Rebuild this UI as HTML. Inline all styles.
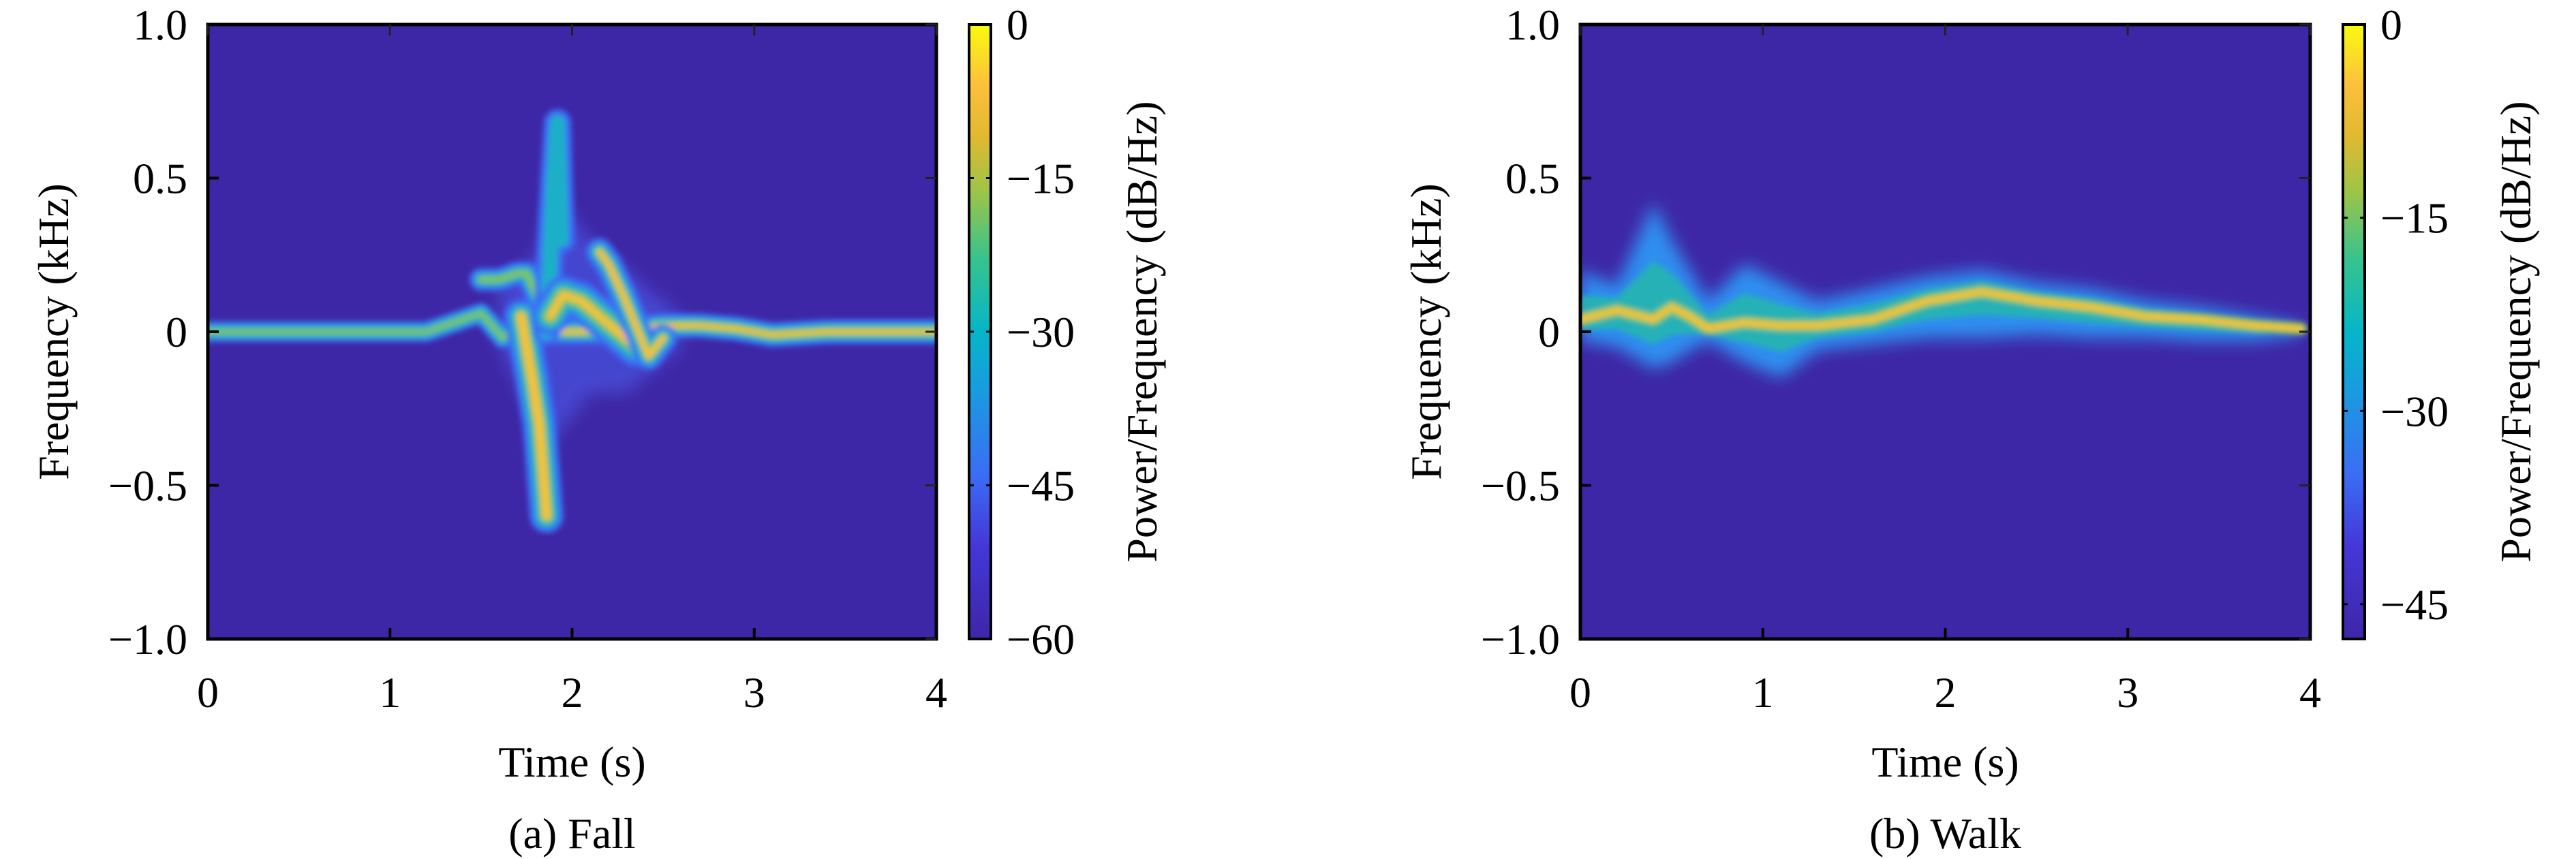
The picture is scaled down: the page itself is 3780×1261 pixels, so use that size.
<!DOCTYPE html>
<html><head><meta charset="utf-8"><style>
html,body{margin:0;padding:0;background:#fff}
svg{display:block}
svg text{font-family:"Liberation Serif","DejaVu Serif",serif !important;fill:#000}
</style></head><body>
<svg id="s" width="3780" height="1261" viewBox="0 0 3780 1261" xmlns="http://www.w3.org/2000/svg">
<defs>
<linearGradient id="parula" x1="0" y1="1" x2="0" y2="0">
<stop offset="0" stop-color="#3e26a8"/>
<stop offset="0.15" stop-color="#4437d8"/>
<stop offset="0.27" stop-color="#3a6ef5"/>
<stop offset="0.4" stop-color="#1a9ae0"/>
<stop offset="0.5" stop-color="#05b6c8"/>
<stop offset="0.62" stop-color="#38c38c"/>
<stop offset="0.73" stop-color="#9fc446"/>
<stop offset="0.82" stop-color="#e2b930"/>
<stop offset="0.9" stop-color="#fcbf3c"/>
<stop offset="1" stop-color="#f9fb0e"/>
</linearGradient>
<filter id="blur" x="-5%" y="-5%" width="110%" height="110%"><feGaussianBlur stdDeviation="4"/></filter>
<filter id="blur2" x="-10%" y="-10%" width="120%" height="120%"><feGaussianBlur stdDeviation="12"/></filter>
<clipPath id="clipA"><rect x="305" y="36" width="1069" height="902"/></clipPath>
<clipPath id="clipB"><rect x="2319" y="36" width="1071" height="902"/></clipPath>
</defs>
<g id="root"></g>
</svg>
<script>
// ---- data: fall ridges (time s, freq kHz) ----
const fallBaseT = [0, 0.5, 1.0, 1.2, 1.35, 1.5, 1.62, 1.7];
const fallBaseF = [0.0, 0.0, 0.0, 0.0, 0.03, 0.06, -0.02, 0.02];
const fallUpperT = [1.5, 1.6, 1.7, 1.75, 1.82];
const fallUpperF = [0.17, 0.17, 0.19, 0.19, 0.1];
const fallDownT = [1.72, 1.78, 1.82, 1.84, 1.86];
const fallDownF = [0.05, -0.15, -0.3, -0.45, -0.6];
const fallUpT = [1.86, 1.88, 1.9, 1.92, 1.94];
const fallUpF = [0.0, 0.25, 0.5, 0.68, 0.3];
const fallBT = [1.88, 1.95, 2.05, 2.15, 2.25, 2.35];
const fallBF = [0.05, 0.12, 0.1, 0.05, 0.0, -0.05];
const fallCT = [2.15, 2.2, 2.28, 2.35, 2.42, 2.5];
const fallCF = [0.26, 0.22, 0.12, 0.02, -0.08, -0.02];
const fallTailT = [1.9, 2.2, 2.5, 2.7, 2.9, 3.1, 3.4, 3.7, 4.0];
const fallTailF = [0.0, 0.0, 0.02, 0.02, 0.01, -0.01, 0.0, 0.0, 0.0];
const fallHazeT = [1.6, 1.8, 1.9, 2.1, 2.3, 2.6];
const fallHazeHi = [0.15, 0.25, 0.45, 0.3, 0.2, 0.05];
const fallHazeLo = [-0.05, -0.3, -0.35, -0.2, -0.2, -0.05];
// ---- data: walk ridge and spread envelope ----
const walkT = [0, 0.2, 0.4, 0.5, 0.6, 0.7, 0.9, 1.1, 1.3, 1.6, 1.9, 2.2, 2.5, 2.8, 3.1, 3.4, 3.7, 3.95];
const walkF = [0.04, 0.07, 0.04, 0.08, 0.05, 0.01, 0.03, 0.02, 0.02, 0.04, 0.1, 0.13, 0.1, 0.08, 0.05, 0.04, 0.02, 0.01];
const walkHi = [0.2, 0.15, 0.42, 0.3, 0.2, 0.1, 0.22, 0.16, 0.1, 0.14, 0.18, 0.2, 0.16, 0.14, 0.1, 0.08, 0.05, 0.02];
const walkLo = [-0.03, -0.05, -0.12, -0.1, -0.06, -0.03, -0.1, -0.15, -0.06, -0.04, -0.02, -0.02, -0.01, -0.02, -0.02, -0.03, -0.03, -0.01];
const xTicks = [0, 1, 2, 3, 4];
const yTicks = [-1.0, -0.5, 0, 0.5, 1.0];
const yTickLabels = ["\u22121.0", "\u22120.5", "0", "0.5", "1.0"];
const cbTicksA = [0, -15, -30, -45, -60];
const cbTicksB = [0, -15, -30, -45];

const NS = "http://www.w3.org/2000/svg";
const root = document.getElementById('root');
const FS = 64;
const FONT = 'font-family:"Liberation Serif","DejaVu Serif",serif';
function mk(tag, attrs, parent, txt){const e=document.createElementNS(NS,tag);for(const k in attrs)e.setAttribute(k,attrs[k]);if(tag==='text')e.setAttribute('style',FONT);if(txt!==undefined)e.textContent=txt;(parent||root).appendChild(e);return e;}

function panel(cfg){
  const g = mk('g',{});
  
  
  const X = t => cfg.x0 + (t/4)*(cfg.x1-cfg.x0);
  const Y = f => cfg.y1 - ((f+1)/2)*(cfg.y1-cfg.y0);
  const bg = mk('rect',{x:cfg.x0,y:cfg.y0,width:cfg.x1-cfg.x0,height:cfg.y1-cfg.y0,fill:'#3e27a6'},g);
  
  
  const marks = mk('g',{'clip-path':'url(#'+cfg.clip+')'},g);
  const hazeG = mk('g',{filter:'url(#blur2)'},marks);
  const blurG = mk('g',{filter:'url(#blur)'},marks);
  
  
  cfg.draw(blurG, X, Y, hazeG);
  const fr = mk('rect',{x:cfg.x0,y:cfg.y0,width:cfg.x1-cfg.x0,height:cfg.y1-cfg.y0,fill:'none',stroke:'#000','stroke-width':5},g);
  
  
  xTicks.forEach(t=>{
    mk('line',{x1:X(t),x2:X(t),y1:cfg.y1,y2:cfg.y1-16,stroke:'#000','stroke-width':4},g);
    mk('line',{x1:X(t),x2:X(t),y1:cfg.y0,y2:cfg.y0+16,stroke:'#222','stroke-width':3},g);
    const l = mk('text',{x:X(t),y:cfg.y1+100,'font-size':FS,'text-anchor':'middle'},g,String(t));
    
    
  });
  yTicks.forEach((f,i)=>{
    mk('line',{x1:cfg.x0,x2:cfg.x0+16,y1:Y(f),y2:Y(f),stroke:'#000','stroke-width':4},g);
    mk('line',{x1:cfg.x1,x2:cfg.x1-16,y1:Y(f),y2:Y(f),stroke:'#222','stroke-width':3},g);
    const l = mk('text',{x:cfg.x0-30,y:Y(f)+22,'font-size':FS,'text-anchor':'end'},g,yTickLabels[i]);
    
    
  });
  const xt = mk('text',{x:(cfg.x0+cfg.x1)/2,y:1140,'font-size':FS,'text-anchor':'middle'},g,'Time (s)');
  
  
  const yt = mk('text',{x:0,y:0,'font-size':FS,'text-anchor':'middle',transform:'translate('+(cfg.ytx)+','+((cfg.y0+cfg.y1)/2)+') rotate(-90)'},g,'Frequency (kHz)');
  
  
  const cap = mk('text',{x:(cfg.x0+cfg.x1)/2,y:1245,'font-size':FS,'text-anchor':'middle'},g,cfg.caption);
  
  
  const cb = mk('rect',{x:cfg.cbx,y:cfg.y0,width:32,height:cfg.y1-cfg.y0,fill:'url(#parula)',stroke:'#000','stroke-width':4},g);
  
  
  const CY = v => cfg.y0 + (v/cfg.cbMin)*(cfg.y1-cfg.y0);
  cfg.cbTicks.forEach(v=>{
    mk('line',{x1:cfg.cbx,x2:cfg.cbx+7,y1:CY(v),y2:CY(v),stroke:'#000','stroke-width':3},g);
    mk('line',{x1:cfg.cbx+32,x2:cfg.cbx+25,y1:CY(v),y2:CY(v),stroke:'#000','stroke-width':3},g);
    const l = mk('text',{x:cfg.cbx+55,y:CY(v)+22,'font-size':FS},g,v===0?'0':'\u2212'+Math.abs(v));
    
    
  });
  const ct = mk('text',{x:0,y:0,'font-size':FS,'text-anchor':'middle',transform:'translate('+(cfg.cbx+275)+','+((cfg.y0+cfg.y1)/2)+') rotate(-90)'},g,'Power/Frequency (dB/Hz)');
  
  
}

function ridge(parent, X, Y, ts, fs, widths, name){
  const pts = ts.map((t,i)=>X(t)+','+Y(fs[i])).join(' ');
  const cols = ['#3a6ef5','#1fb0c8','#7cc55a','#f7c23a'];
  widths.forEach((w,i)=>{
    if(w<=0) return;
    const p = mk('polyline',{points:pts,fill:'none',stroke:cols[i],'stroke-width':w,'stroke-linejoin':'round','stroke-linecap':'round'},parent);
    
    
  });
}
function envelope(parent, X, Y, ts, hi, lo, fill, name, op){
  const up = ts.map((t,i)=>X(t)+','+Y(hi[i]));
  const dn = ts.map((t,i)=>X(t)+','+Y(lo[i])).reverse();
  const p = mk('polygon',{points:up.concat(dn).join(' '),fill:fill,opacity:op},parent);
  
  
}

panel({name:'fall-panel',x0:305,x1:1374,y0:36,y1:938,clip:'clipA',cbx:1422,cbMin:-60,cbTicks:cbTicksA,ytx:100,caption:'(a) Fall',
  draw:(g,X,Y,h)=>{
    envelope(h,X,Y,fallHazeT,fallHazeHi,fallHazeLo,'#4a5ff0','fall-haze',0.55);
    ridge(g,X,Y,fallBaseT,fallBaseF,[30,20,8,0],'fall-baseline-ridge');
    ridge(g,X,Y,fallTailT,fallTailF,[36,24,14,6],'fall-tail-ridge');
    ridge(g,X,Y,fallUpperT,fallUpperF,[34,20,10,0],'fall-upper-ridge');
    ridge(g,X,Y,fallDownT,fallDownF,[50,34,20,12],'fall-down-spike');
    ridge(g,X,Y,fallUpT,fallUpF,[40,22,0,0],'fall-up-spike');
    ridge(g,X,Y,fallBT,fallBF,[56,38,22,10],'fall-ridge-b');
    ridge(g,X,Y,fallCT,fallCF,[40,26,14,8],'fall-ridge-c');
  }});

panel({name:'walk-panel',x0:2319,x1:3390,y0:36,y1:938,clip:'clipB',cbx:3438,cbMin:-47.7,cbTicks:cbTicksB,ytx:2114,caption:'(b) Walk',
  draw:(g,X,Y,h)=>{
    envelope(h,X,Y,walkT,walkHi,walkLo,'#2f8ff0','walk-spread-envelope',1);
    const midHi = walkT.map((t,i)=>(walkF[i]+walkHi[i])/2);
    const midLo = walkT.map((t,i)=>(walkF[i]+walkLo[i])/2);
    envelope(g,X,Y,walkT,midHi,midLo,'#22b5b0','walk-core-band',0.9);
    ridge(g,X,Y,walkT,walkF,[0,0,18,9],'walk-main-ridge');
  }});
</script>
</body></html>
